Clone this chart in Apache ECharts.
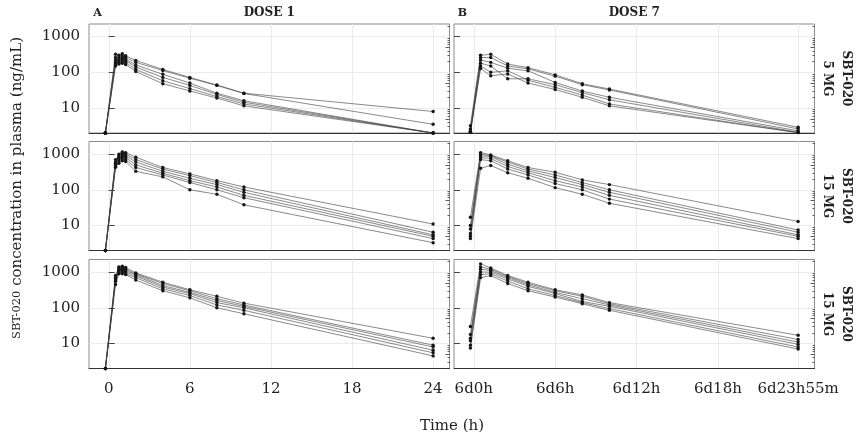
<!DOCTYPE html>
<html><head><meta charset="utf-8">
<script src="https://cdn.jsdelivr.net/npm/echarts@6/dist/echarts.min.js"></script>
<style>html,body{margin:0;padding:0;background:#fff}#c{width:857px;height:440px}</style>
</head><body><div id="c"></div>
<script>
// ---------- data ----------
const doseTitles = ['DOSE 1', 'DOSE 7'];
const panelLetters = ['A', 'B'];
const rowLabels = [['SBT-020', '5 MG'], ['SBT-020', '15 MG'], ['SBT-020', '15 MG']];
const xTitle = 'Time (h)';

const timesDose1 = [-0.25, 0.5, 0.75, 1, 1.25, 2, 4, 6, 8, 10, 24];
const timesDose7 = [143.75, 144.5, 145.25, 146.5, 148, 150, 152, 154, 167.9167];
const ticksDose1 = [0, 6, 12, 18, 24];
const ticksDose7 = [144, 150, 156, 162, 167.9167];
const yTicksMajor = [10, 100, 1000];
const yTicksMid = [5, 50, 500];
const yTicksShort = [2, 3, 4, 6, 7, 8, 9, 20, 30, 40, 60, 70, 80, 90, 200, 300, 400, 600, 700, 800, 900, 2000];

// concentrations (ng/mL), one row per subject
const concDose1Row1 = [
  [2, 320, 300, 330, 290, 215, 120, 72, 44, 26, 8],
  [2, 260, 260, 285, 260, 190, 112, 68, 43, 25.5, 3.5],
  [2, 220, 230, 250, 230, 160, 88, 50, 26, 16, 2],
  [2, 190, 210, 240, 215, 140, 72, 43, 24, 14.5, 2],
  [2, 170, 185, 205, 190, 120, 58, 35, 21, 13, 2],
  [2, 150, 170, 180, 165, 105, 48, 30, 19, 11.5, 2]
];
const concDose7Row1 = [
  [3.2, 300, 320, 170, 135, 85, 48, 34, 2.9],
  [2.6, 260, 260, 150, 125, 78, 45, 32, 2.6],
  [2.2, 220, 190, 130, 110, 52, 30, 20, 2.3],
  [2.2, 180, 150, 66, 66, 45, 27, 17, 2.1],
  [2.1, 150, 100, 110, 60, 38, 23, 13, 2.05],
  [2.1, 128, 80, 90, 50, 33, 20, 11.5, 2.05]
];
const concDose1Row2 = [
  [2, 600, 1000, 1150, 1100, 820, 420, 280, 180, 120, 11],
  [2, 700, 900, 1050, 1000, 700, 380, 250, 160, 100, 6.5],
  [2, 550, 800, 950, 900, 600, 330, 210, 140, 85, 5.5],
  [2, 500, 750, 850, 800, 500, 290, 180, 120, 70, 5],
  [2, 450, 650, 750, 700, 420, 260, 160, 100, 60, 4.3],
  [2, 430, 550, 650, 620, 330, 230, 100, 75, 38, 3.3]
];
const concDose7Row2 = [
  [17, 1100, 950, 650, 420, 310, 190, 140, 13],
  [10, 1000, 900, 600, 380, 260, 160, 100, 7.5],
  [8, 900, 850, 520, 340, 220, 140, 85, 6.5],
  [6, 800, 750, 450, 300, 180, 120, 70, 5.5],
  [5, 700, 650, 380, 260, 150, 100, 55, 5],
  [4.3, 400, 480, 300, 210, 115, 75, 42, 4.3]
];
const concDose1Row3 = [
  [2, 800, 1400, 1450, 1350, 950, 520, 320, 210, 135, 14],
  [2, 700, 1300, 1300, 1200, 900, 480, 300, 180, 120, 9],
  [2, 650, 1200, 1200, 1100, 850, 420, 270, 160, 110, 8],
  [2, 600, 1100, 1100, 1000, 780, 380, 250, 140, 100, 6.5],
  [2, 550, 1000, 1000, 900, 700, 340, 220, 120, 85, 5.5],
  [2, 450, 900, 900, 850, 600, 300, 190, 100, 68, 4.5]
];
const concDose7Row3 = [
  [30, 1700, 1300, 800, 520, 320, 230, 140, 17],
  [18, 1400, 1200, 750, 480, 300, 210, 130, 13],
  [14, 1200, 1100, 700, 440, 270, 180, 120, 11],
  [12, 1000, 1000, 640, 400, 250, 150, 110, 9.5],
  [9, 850, 900, 560, 340, 220, 140, 95, 8],
  [7.5, 700, 800, 480, 300, 200, 130, 85, 7]
];

// ---------- layout ----------
const FONT = "'DejaVu Serif', serif";
const colLeft = [89, 454];
const panelW = 360.5;
const rowTop = [24, 141.5, 259.5];
const panelH = 109;
const xRanges = [[-1.4625, 25.2125], [142.54, 169.125]];
const yRange = [2, 2250];
const colTimes = [timesDose1, timesDose7];
const colTicks = [ticksDose1, ticksDose7];
const panelConc = [[concDose1Row1, concDose7Row1], [concDose1Row2, concDose7Row2], [concDose1Row3, concDose7Row3]];

function fmtDay(v) {
  const d = Math.floor(v / 24 + 1e-9);
  const rem = v - d * 24;
  let h = Math.floor(rem + 1e-6);
  let m = Math.round((rem - h) * 60);
  if (m === 60) { h++; m = 0; }
  return d + 'd' + h + 'h' + (m ? m + 'm' : '');
}

const grids = [], xAxes = [], yAxes = [], series = [];
for (let r = 0; r < 3; r++) {
  for (let c = 0; c < 2; c++) {
    const gi = grids.length;
    grids.push({
      left: colLeft[c], top: rowTop[r], width: panelW, height: panelH,
      show: true, borderColor: '#8c8c8c', borderWidth: 1, backgroundColor: '#fff',
      containLabel: false, outerBoundsMode: 'none'
    });
    xAxes.push({
      gridIndex: gi, type: 'value', min: xRanges[c][0], max: xRanges[c][1],
      axisLine: { show: true, onZero: false, lineStyle: { color: '#333', width: 1 } },
      axisTick: { show: false, customValues: colTicks[c] },
      axisLabel: {
        show: r === 2, customValues: colTicks[c], margin: 13,
        fontFamily: FONT, fontSize: 15, color: '#222',
        formatter: c === 0 ? (v => String(v)) : fmtDay
      },
      splitLine: { show: true, lineStyle: { color: '#ebebeb', width: 1.1 } }
    });
    const yBase = yAxes.length;
    yAxes.push({
      gridIndex: gi, type: 'log', logBase: 10, min: yRange[0], max: yRange[1],
      axisLine: { show: false },
      axisTick: { show: true, inside: true, length: 6, customValues: yTicksMajor, lineStyle: { color: '#333', width: 0.9 } },
      axisLabel: {
        show: c === 0, customValues: yTicksMajor, margin: 9,
        fontFamily: FONT, fontSize: 15, color: '#222', formatter: v => String(v)
      },
      splitLine: { show: true, lineStyle: { color: '#ebebeb', width: 1.1 } }
    });
    yAxes.push({
      gridIndex: gi, type: 'log', logBase: 10, min: yRange[0], max: yRange[1],
      axisLine: { show: false },
      axisTick: { show: true, inside: true, length: 4, customValues: yTicksMid, lineStyle: { color: '#333', width: 0.8 } },
      axisLabel: { show: false }, splitLine: { show: false }
    });
    yAxes.push({
      gridIndex: gi, type: 'log', logBase: 10, min: yRange[0], max: yRange[1],
      axisLine: { show: false },
      axisTick: { show: true, inside: true, length: 2, customValues: yTicksShort, lineStyle: { color: '#333', width: 0.8 } },
      axisLabel: { show: false }, splitLine: { show: false }
    });
    const times = colTimes[c];
    panelConc[r][c].forEach(subj => {
      series.push({
        type: 'line', xAxisIndex: gi, yAxisIndex: yBase,
        data: times.map((t, k) => [t, subj[k]]),
        symbol: 'circle', symbolSize: 3.4, showSymbol: true,
        lineStyle: { color: '#3a3a3a', width: 0.6 },
        itemStyle: { color: '#151515' },
        clip: false, silent: true, animation: false
      });
    });
  }
}

const graphics = [];
for (let c = 0; c < 2; c++) {
  const cx = colLeft[c] + panelW / 2;
  graphics.push({ type: 'text', x: cx, y: 13, style: { text: doseTitles[c], font: 'bold 12px ' + FONT, fill: '#222', align: 'center', verticalAlign: 'middle' } });
  graphics.push({ type: 'text', x: colLeft[c] + 8.5, y: 12.7, style: { text: panelLetters[c], font: 'bold 11px ' + FONT, fill: '#222', align: 'center', verticalAlign: 'middle' } });
}
for (let r = 0; r < 3; r++) {
  const cy = rowTop[r] + panelH / 2;
  graphics.push({ type: 'text', x: 846.5, y: cy, rotation: -Math.PI / 2, style: { text: rowLabels[r][0], font: 'bold 12px ' + FONT, fill: '#222', align: 'center', verticalAlign: 'middle' } });
  graphics.push({ type: 'text', x: 827.5, y: cy, rotation: -Math.PI / 2, style: { text: rowLabels[r][1], font: 'bold 12px ' + FONT, fill: '#222', align: 'center', verticalAlign: 'middle' } });
}
graphics.push({
  type: 'text', x: 17.5, y: 188, rotation: Math.PI / 2,
  style: {
    text: '{sc|SBT-020} concentration in plasma (ng/mL)',
    font: '15px ' + FONT, fill: '#222', align: 'center', verticalAlign: 'middle',
    rich: { sc: { fontFamily: FONT, fontSize: 11.5, fill: '#222' } }
  }
});
graphics.push({ type: 'text', x: 452, y: 426, style: { text: xTitle, font: '15px ' + FONT, fill: '#222', align: 'center', verticalAlign: 'middle' } });

const chart = echarts.init(document.getElementById('c'), null, { renderer: 'canvas' });
chart.setOption({
  animation: false,
  backgroundColor: '#fff',
  grid: grids, xAxis: xAxes, yAxis: yAxes, series: series,
  graphic: graphics
});
</script>
</body></html>
